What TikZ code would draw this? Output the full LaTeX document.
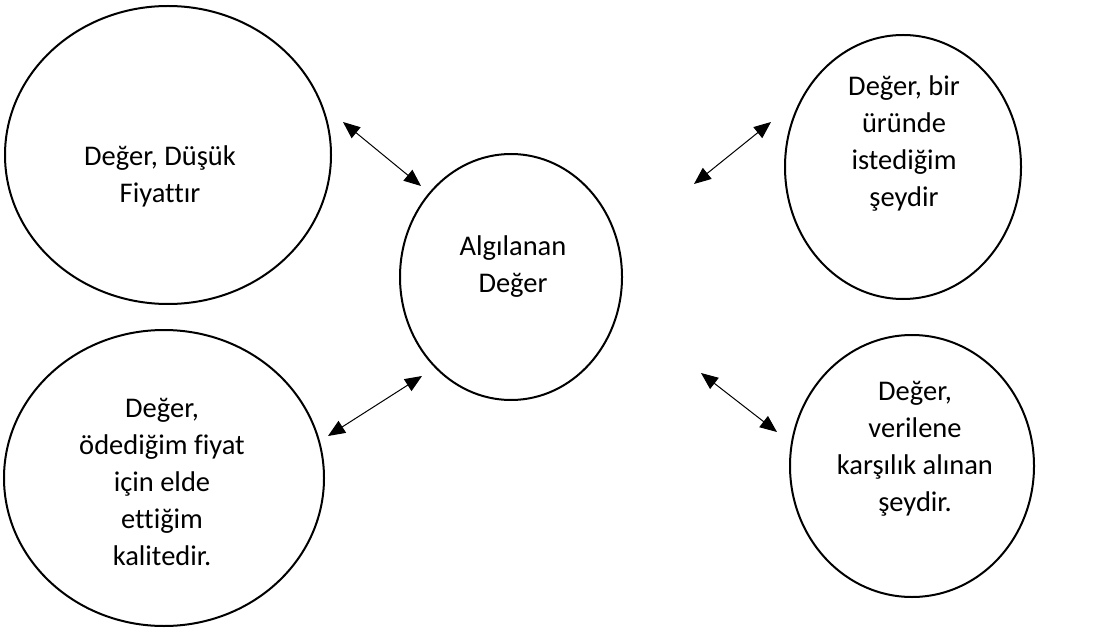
\documentclass[tikz,border=0pt]{standalone}
\usepackage{fontspec}
\setmainfont[Ligatures=NoCommon]{Carlito}
\usetikzlibrary{arrows.meta}
\begin{document}
\begin{tikzpicture}[x=1pt,y=-1pt,
  bubble/.style={draw=black,line width=2pt},
  label/.style={align=center,font=\fontsize{28.5}{37}\selectfont,inner sep=0pt},
  link/.style={line width=1pt,{Triangle[length=17pt,width=14pt]}-{Triangle[length=17pt,width=14pt]}}]
\useasboundingbox[fill=white] (0,0) rectangle (1102,628);
% circles
\draw[bubble] (168,155) ellipse [x radius=163,y radius=149];
\draw[bubble] (511,277) ellipse [x radius=111,y radius=123];
\draw[bubble] (903,167) ellipse [x radius=118,y radius=132];
\draw[bubble] (164,478) ellipse [x radius=160,y radius=148];
\draw[bubble] (912,466) ellipse [x radius=122,y radius=131];
% texts
\node[label] (tl) at (160,176) {Değer, Düşük\\Fiyattır};
\node[label] (c) at (513,267) {Algılanan\\Değer};
\node[label] (tr) at (904,144) {Değer, bir\\üründe\\istediğim\\şeydir};
\node[label] (bl) at (162,482) {Değer,\\ödediğim fiyat\\için elde\\ettiğim\\kalitedir.};
\node[label] (br) at (915,449) {Değer,\\verilene\\karşılık alınan\\şeydir.};
% arrow ends
\coordinate (a1) at (343,122);
\coordinate (b1) at (421,186);
\coordinate (a2) at (771,122);
\coordinate (b2) at (694,184);
\coordinate (a3) at (328,436);
\coordinate (b3) at (422,376);
\coordinate (a4) at (701,373);
\coordinate (b4) at (777,432);
\draw[link] (a1) -- (b1);
\draw[link] (a2) -- (b2);
\draw[link] (a3) -- (b3);
\draw[link] (a4) -- (b4);
\end{tikzpicture}
\end{document}
